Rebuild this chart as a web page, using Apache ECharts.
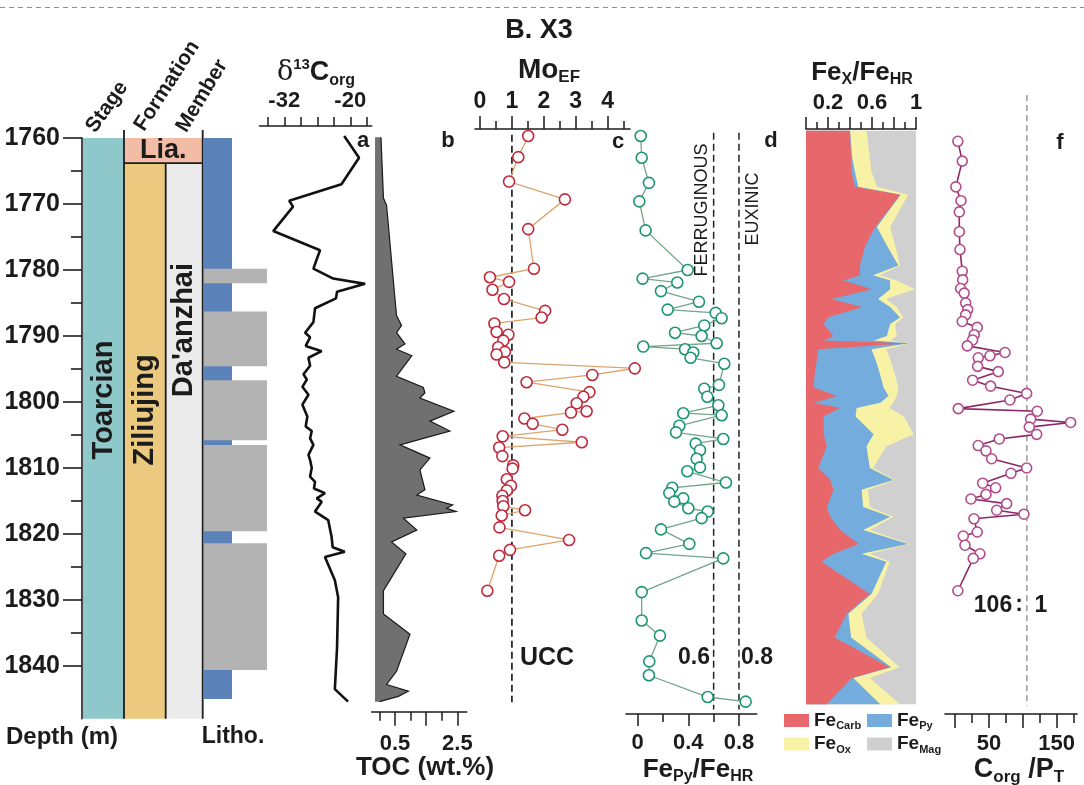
<!DOCTYPE html>
<html>
<head>
<meta charset="utf-8">
<title>B. X3</title>
<script src="https://cdn.jsdelivr.net/npm/echarts@6.0.0/dist/echarts.min.js"></script>
<style>
html,body{margin:0;padding:0;background:#ffffff;}
#chart{width:1084px;height:785px;}
</style>
</head>
<body>
<div id="chart"></div>
<script>
// ======================= DATA =======================
const depthMajorTicks = [1760,1770,1780,1790,1800,1810,1820,1830,1840];
const depthMinorTicks = [1765,1775,1785,1795,1805,1815,1825,1835];

// stratigraphy (depth intervals, m)
const stages = [{name:'Toarcian', top:1760, base:1848}];
const formations = [{name:'Lia.', top:1760, base:1763.8}, {name:'Ziliujing', top:1763.8, base:1848}];
const members = [{name:"Da'anzhai", top:1763.8, base:1848}];
const lithoBlueIntervals = [[1760,1845]];
const lithoGrayIntervals = [[1779.8,1782.0],[1786.3,1794.6],[1796.7,1805.8],[1806.5,1819.6],[1821.4,1840.6]];

// a: d13C org
const d13cDepth = [1759.7,1763.0,1767.0,1769.5,1770.4,1774.1,1777.0,1779.8,1781.3,1782.1,1783.3,1784.3,1785.8,1787.9,1789.5,1790.2,1791.5,1792.3,1793.3,1794.5,1795.8,1796.6,1797.7,1798.9,1800.4,1802.2,1803.7,1804.4,1805.5,1806.5,1808.0,1808.8,1810.0,1811.3,1812.1,1813.1,1813.8,1814.6,1815.1,1816.6,1817.9,1820.4,1822.0,1822.7,1823.5,1827.0,1829.6,1837.2,1843.5,1845.4];
const d13cValue = [-21.1,-18.4,-21.6,-31.1,-30.4,-34.0,-25.5,-26.7,-23.1,-17.3,-22.4,-22.6,-26.4,-26.7,-28.2,-27.3,-28.1,-25.2,-27.6,-27.3,-28.5,-27.9,-28.7,-27.6,-28.7,-27.8,-28.1,-27.0,-27.3,-26.7,-27.6,-27.3,-27.0,-27.3,-26.4,-26.6,-24.6,-26.1,-25.2,-26.4,-24.0,-23.4,-23.2,-21.0,-24.6,-22.8,-22.2,-22.4,-22.8,-20.4];
const d13cTicks = [-35,-32,-29,-26,-23,-20,-17];
const d13cTickLabels = [-32,-20];

// b: TOC (wt.%)
const tocDepth = [1759.9,1769.1,1770.2,1784.4,1786.9,1788.4,1789.5,1791.2,1792.0,1793.0,1794.0,1796.1,1797.8,1798.6,1799.4,1801.4,1802.9,1804.4,1806.5,1808.5,1810.3,1813.3,1814.1,1815.6,1816.1,1816.6,1817.6,1819.4,1821.2,1823.0,1828.6,1832.1,1835.2,1840.8,1842.8,1843.8,1844.6,1845.4];
const tocValue = [0.05,0.13,0.23,0.50,0.55,0.71,0.55,0.82,0.55,1.04,0.88,0.55,1.41,1.46,1.30,2.39,1.62,2.26,0.66,1.62,1.30,1.46,1.20,2.35,2.16,2.46,0.77,1.20,0.39,0.85,0.13,0.13,0.98,0.55,0.23,0.93,0.61,0.0];
const tocMajorTicks = [0.5,1.5,2.5];
const tocMinorTicks = [0,1,2];
const tocTickLabels = [0.5,2.5];

// c: Mo EF
const moDepth = [1759.7,1762.9,1766.6,1769.3,1773.8,1779.8,1781.1,1781.8,1783.0,1784.4,1786.2,1787.2,1788.1,1789.4,1789.8,1790.7,1791.7,1792.4,1792.8,1794.0,1794.9,1795.9,1797.0,1798.5,1799.2,1800.2,1801.4,1801.6,1802.5,1803.3,1804.2,1805.2,1806.1,1806.9,1808.2,1809.6,1810.1,1811.7,1812.7,1813.4,1814.2,1815.0,1815.8,1816.4,1817.2,1819.0,1820.9,1822.4,1823.3,1828.6];
const moEF = [1.51,1.20,0.91,2.66,1.51,1.69,0.31,0.91,0.39,0.75,2.04,1.93,0.45,0.52,0.89,0.73,0.57,0.78,0.52,0.76,4.85,3.52,1.46,3.43,3.24,3.03,3.34,2.85,1.39,1.65,2.58,0.71,3.19,0.60,0.70,1.04,1.02,0.84,0.97,0.84,0.70,0.71,0.73,1.41,0.68,0.61,2.79,0.94,0.60,0.23];
const moMajorTicks = [0,1,2,3,4];
const moMinorTicks = [0.5,1.5,2.5,3.5,4.5];
const moTickLabels = [0,1,2,3,4];
const moUCC = 1;

// d: FePy/FeHR
const fePyDepth = [1759.7,1763.0,1766.8,1769.6,1774.0,1780.0,1781.3,1781.9,1783.2,1784.8,1786.0,1786.5,1787.3,1788.4,1789.5,1790.0,1791.1,1791.6,1792.0,1792.5,1793.3,1794.2,1797.4,1798.0,1799.2,1800.5,1801.7,1802.0,1803.6,1804.6,1805.6,1806.3,1807.3,1808.6,1809.9,1810.5,1812.2,1813.0,1813.8,1814.6,1815.1,1816.1,1816.6,1817.6,1819.3,1821.5,1822.9,1823.7,1828.8,1833.1,1835.4,1839.3,1841.4,1844.7,1845.4];
const fePyRatio = [0.024,0.032,0.089,0.013,0.063,0.395,0.039,0.313,0.184,0.484,0.237,0.616,0.663,0.526,0.295,0.505,0.624,0.044,0.374,0.439,0.418,0.684,0.642,0.526,0.55,0.637,0.36,0.663,0.329,0.303,0.676,0.458,0.492,0.466,0.492,0.392,0.697,0.273,0.25,0.36,0.289,0.40,0.553,0.505,0.184,0.408,0.066,0.676,0.032,0.032,0.176,0.092,0.089,0.553,0.853];
const fePyMajorTicks = [0,0.4,0.8];
const fePyMinorTicks = [0.2,0.6];
const fePyTickLabels = [0,0.4,0.8];
const fePyThresholds = [0.6,0.8];

// e: FeX/FeHR speciation (fractions of FeHR)
const feXDepth = [1758.9,1763.0,1765.1,1767.4,1768.6,1773.5,1776.3,1779.3,1780.8,1781.6,1782.9,1784.4,1785.6,1787.2,1788.2,1790.0,1790.7,1791.1,1792.0,1793.5,1795.6,1797.8,1799.1,1800.1,1800.9,1802.2,1804.9,1806.7,1810.0,1811.8,1813.3,1815.9,1817.4,1819.4,1821.5,1823.0,1824.2,1829.1,1832.1,1835.7,1840.2,1841.8,1845.8];
const feCarb = [0.40,0.41,0.415,0.445,0.855,0.63,0.54,0.49,0.49,0.34,0.60,0.23,0.51,0.20,0.16,0.25,0.16,0.93,0.11,0.10,0.08,0.07,0.28,0.07,0.31,0.16,0.16,0.19,0.11,0.22,0.25,0.19,0.22,0.31,0.48,0.25,0.14,0.58,0.37,0.26,0.76,0.415,0.19];
const fePy = [0,0.01,0.03,0.03,0.005,0.015,0.195,0.35,0.12,0.425,0.165,0.425,0.255,0.655,0.605,0.485,0.455,0.01,0.485,0.53,0.59,0.635,0.47,0.605,0.15,0.29,0.455,0.36,0.47,0.575,0.255,0.33,0.545,0.21,0.45,0.255,0.59,0.015,0.015,0.15,0.015,0.015,0.485];
const feOx = [0.15,0.16,0.15,0.17,0.07,0.12,0.075,0.015,0.06,0.06,0.225,0.075,0.06,0.03,0.045,0.09,0.15,0.01,0.135,0.135,0.135,0.135,0.075,0.12,0.30,0.44,0.365,0.18,0.03,0.015,0.06,0.06,0.03,0.06,0.015,0.075,0.03,0.06,0.12,0.14,0.075,0.15,0.18];
const feXMajorTicks = [0,0.2,0.4,0.6,0.8,1];
const feXMinorTicks = [0.1,0.3,0.5,0.7,0.9];
const feXTickLabels = [0.2,0.6,1];

// f: Corg/PT
const cpDepth = [1760.5,1763.5,1767.4,1769.5,1771.2,1774.2,1776.9,1780.2,1781.5,1782.8,1783.5,1785.0,1786.0,1786.8,1787.8,1788.7,1789.8,1790.6,1791.5,1792.5,1793.0,1793.3,1794.6,1795.4,1796.7,1797.6,1798.7,1799.7,1801.0,1801.4,1802.6,1803.1,1803.8,1804.9,1805.6,1806.6,1807.4,1808.6,1810.0,1810.8,1812.3,1813.0,1814.0,1814.7,1815.4,1816.4,1817.0,1817.7,1819.7,1820.3,1821.7,1823.0,1823.7,1828.6];
const cpRatio = [4,10.5,1,8.6,6.1,6.1,7.1,10.5,11.1,8.1,13.4,15.5,18.5,15.5,10.5,32.6,28.2,25.8,17.9,73.6,51.4,34.1,33.2,63.7,25.8,52.4,105.6,80.9,4.6,121.3,111.5,170.6,109.5,120.4,65.2,34.1,45.5,53.9,105.6,82.4,40.6,59.8,45.5,23.3,76.1,61.3,101.6,27.8,32.6,12.0,14.5,36.6,26.7,4];
const cpMajorTicks = [0,50,100,150];
const cpMinorTicks = [25,75,125,175];
const cpTickLabels = [50,150];
const cpRedfield = 106;

// ======================= LAYOUT & STYLE =======================
const FONT = '"Liberation Sans", Arial, Helvetica, sans-serif';
const SERIF = '"DejaVu Serif", "Liberation Serif", serif';
const INK = '#1c1c1c';
const GRID_TOP = 138, DMIN = 1760, DMAX = 1848, PX_PER_M = 6.6;
const GRID_H = (DMAX - DMIN) * PX_PER_M;

const COL = {stage:[1,42], formation:[42,83.7], member:[83.7,120.7], lia:[42,120.7], lithoBlue:[122,150], lithoGray:[122,185]};
const LABEL_DEPTH = {'Toarcian':1799.7, 'Ziliujing':1801.2, "Da'anzhai":1789.1};
const COLORS = {stage:'#8fc8cb', lia:'#f2bca7', formation:'#ebc97e', member:'#ebebeb', lithoBlue:'#5b83b9', lithoGray:'#b3b3b3',
  carb:'#e8676a', py:'#73acdd', ox:'#f7f2a6', mag:'#d0d0d0'};
const TOC_BASE = -0.14;
const REF_SPAN = {mo:[1759.5,1845.5], fe:[1759.2,1846.6], cp:[1753.5,1846]};
const plainNum = v => String(v);

const grids = [], xAxes = [], yAxes = [], series = [];
function tickStyle(len){ return {show:true, length:len, lineStyle:{color:INK, width:1.5}}; }
function addPanel(p){
  const gi = grids.length;
  grids.push({left:p.left, top:GRID_TOP, width:p.width, height:GRID_H, containLabel:false, outerBoundsMode:'none'});
  const yi = yAxes.length;
  yAxes.push({gridIndex:gi, type:'value', inverse:true, min:DMIN, max:DMAX, show:false});
  const xi = xAxes.length;
  const base = {gridIndex:gi, type:'value', min:p.min, max:p.max, position:p.pos||'bottom', offset:p.offset||0, splitLine:{show:false}};
  if (!p.major){ xAxes.push(Object.assign({}, base, {show:false})); return {gi, xi, yi}; }
  xAxes.push(Object.assign({}, base, {
    axisLine:{show:true, onZero:false, lineStyle:{color:INK, width:1.6}},
    axisTick:Object.assign(tickStyle(p.majorLen), {customValues:p.major}),
    axisLabel:{show:true, customValues:p.labels, margin:p.margin, color:INK, fontFamily:FONT, fontWeight:'bold', fontSize:p.labelSize||22, formatter:plainNum}
  }));
  if (p.minor){
    xAxes.push(Object.assign({}, base, {
      axisLine:{show:false}, axisTick:Object.assign(tickStyle(p.minorLen), {customValues:p.minor}), axisLabel:{show:false}
    }));
  }
  return {gi, xi, yi};
}

const P_strat = addPanel({left:82, width:190, min:0, max:190});
const P_d13c = addPanel({left:259.5, width:112.2, min:-36.5, max:-16.1, pos:'top', offset:12, major:d13cTicks, majorLen:9, labels:d13cTickLabels, margin:14.5});
const P_toc = addPanel({left:371.7, width:95, min:-0.247, max:2.80, pos:'bottom', offset:-7.1, major:tocMajorTicks, majorLen:14, minor:tocMinorTicks, minorLen:9, labels:tocTickLabels, margin:21});
const P_mo = addPanel({left:475, width:155, min:-0.157, max:4.70, pos:'top', offset:9, major:moMajorTicks, majorLen:13, minor:moMinorTicks, minorLen:8, labels:moTickLabels, margin:16, labelSize:23});
const P_fepy = addPanel({left:626, width:130.7, min:-0.092, max:0.94, pos:'bottom', offset:-4.8, major:fePyMajorTicks, majorLen:12, minor:fePyMinorTicks, minorLen:8, labels:fePyTickLabels, margin:17.5});
const P_fex = addPanel({left:806, width:110, min:0, max:1, pos:'top', offset:9, major:feXMajorTicks, majorLen:12, minor:feXMinorTicks, minorLen:7, labels:feXTickLabels, margin:15.5});
const P_cp = addPanel({left:945, width:132, min:-15, max:180, pos:'bottom', offset:-4.8, major:cpMajorTicks, majorLen:14, minor:cpMinorTicks, minorLen:9, labels:cpTickLabels, margin:19});

// depth axis on the stratigraphic grid
yAxes[P_strat.yi] = {gridIndex:P_strat.gi, type:'value', inverse:true, min:DMIN, max:DMAX, position:'left',
  axisLine:{show:true, onZero:false, lineStyle:{color:INK, width:1.6}},
  axisTick:{show:true, customValues:depthMajorTicks, length:19, lineStyle:{color:INK, width:1.6}},
  axisLabel:{show:true, customValues:depthMajorTicks, margin:22, fontSize:25, fontWeight:'bold', color:INK, fontFamily:FONT, formatter:plainNum},
  splitLine:{show:false}};
yAxes.push({gridIndex:P_strat.gi, type:'value', inverse:true, min:DMIN, max:DMAX, position:'left',
  axisLine:{show:false}, axisTick:{show:true, customValues:depthMinorTicks, length:11, lineStyle:{color:INK, width:1.6}},
  axisLabel:{show:false}, splitLine:{show:false}});

// ---------- stratigraphic columns ----------
const stratItems = [];
stages.forEach(s => stratItems.push({x0:COL.stage[0], x1:COL.stage[1], top:s.top, base:s.base, fill:COLORS.stage, label:s.name, rotate:true}));
formations.forEach(f => {
  if (f.name === 'Lia.') stratItems.push({x0:COL.lia[0], x1:COL.lia[1], top:f.top, base:f.base, fill:COLORS.lia, label:f.name, rotate:false, size:27});
  else stratItems.push({x0:COL.formation[0], x1:COL.formation[1], top:f.top, base:f.base, fill:COLORS.formation, label:f.name, rotate:true});
});
members.forEach(m => stratItems.push({x0:COL.member[0], x1:COL.member[1], top:m.top, base:m.base, fill:COLORS.member, label:m.name, rotate:true}));
lithoBlueIntervals.forEach(iv => stratItems.push({x0:COL.lithoBlue[0], x1:COL.lithoBlue[1], top:iv[0], base:iv[1], fill:COLORS.lithoBlue}));
lithoGrayIntervals.forEach(iv => stratItems.push({x0:COL.lithoGray[0], x1:COL.lithoGray[1], top:iv[0], base:iv[1], fill:COLORS.lithoGray}));

series.push({type:'custom', name:'strat', xAxisIndex:P_strat.xi, yAxisIndex:P_strat.yi, clip:false, silent:true, z:1,
  data: stratItems.map(it => [it.x0, it.top, it.x1, it.base]), encode:{x:[0,2], y:[1,3]},
  renderItem:(params, api) => {
    const it = stratItems[params.dataIndex];
    const a = api.coord([it.x0, it.top]), b = api.coord([it.x1, it.base]);
    const children = [{type:'rect', shape:{x:a[0], y:a[1], width:b[0]-a[0], height:b[1]-a[1]}, style:{fill:it.fill}}];
    if (it.label){
      const cx = (a[0]+b[0])/2;
      const cy = LABEL_DEPTH[it.label] != null ? api.coord([0, LABEL_DEPTH[it.label]])[1] : (a[1]+b[1])/2;
      const size = it.size || 29;
      children.push({type:'text', x:cx, y:cy, rotation: it.rotate ? Math.PI/2 : 0,
        style:{text:it.label, font:'bold '+size+'px '+FONT, fill:INK, align:'center', verticalAlign:'middle', textAlign:'center', textVerticalAlign:'middle'}});
    }
    return {type:'group', children};
  }});

const sepSegments = [[COL.stage[1],1758.8,COL.stage[1],DMAX],[COL.member[1],1758.8,COL.member[1],DMAX],[COL.formation[1],1763.8,COL.formation[1],DMAX],[COL.lia[0],1763.8,COL.lia[1],1763.8]];
series.push({type:'custom', name:'sep', xAxisIndex:P_strat.xi, yAxisIndex:P_strat.yi, clip:false, silent:true, z:2,
  data: sepSegments, encode:{x:[0,2], y:[1,3]},
  renderItem:(params, api) => {
    const s = sepSegments[params.dataIndex];
    const a = api.coord([s[0], s[1]]), b = api.coord([s[2], s[3]]);
    return {type:'line', shape:{x1:a[0], y1:a[1], x2:b[0], y2:b[1]}, style:{stroke:INK, lineWidth:1.8}};
  }});

// ---------- a: d13C ----------
series.push({type:'line', name:'d13C', xAxisIndex:P_d13c.xi, yAxisIndex:P_d13c.yi, clip:false, silent:true, symbol:'none', z:3,
  data: d13cDepth.map((d,i) => [d13cValue[i], d]), lineStyle:{color:'#111', width:2.6}});

// ---------- b: TOC ----------
series.push({type:'custom', name:'TOC', xAxisIndex:P_toc.xi, yAxisIndex:P_toc.yi, clip:false, silent:true, z:2,
  data: tocDepth.map((d,i) => [tocValue[i], d]),
  renderItem:(params, api) => {
    if (params.dataIndex !== 0) return null;
    const pts = tocDepth.map((d,i) => api.coord([tocValue[i], d]));
    const t = api.coord([TOC_BASE, tocDepth[0]]), b = api.coord([TOC_BASE, tocDepth[tocDepth.length-1]]);
    return {type:'group', children:[
      {type:'polygon', shape:{points:[t].concat(pts, [b])}, style:{fill:'#707070'}},
      {type:'polyline', shape:{points:pts}, style:{stroke:'#1a1a1a', lineWidth:1.2, fill:null}}
    ]};
  }});

// ---------- reference lines ----------
function refLine(panel, value, span, style){
  return {type:'line', xAxisIndex:panel.xi, yAxisIndex:panel.yi, clip:false, silent:true, symbol:'none', z:1,
    data:[[value, span[0]], [value, span[1]]], lineStyle:style};
}
series.push(refLine(P_mo, moUCC, REF_SPAN.mo, {color:'#111', width:1.6, type:[7,4]}));
fePyThresholds.forEach(t => series.push(refLine(P_fepy, t, REF_SPAN.fe, {color:'#222', width:1.5, type:[7,4]})));
series.push(refLine(P_cp, cpRedfield, REF_SPAN.cp, {color:'#666', width:1, type:[6,4]}));

// ---------- point profiles ----------
function profile(panel, depth, vals, stroke, lineColor, size, lw){
  return {type:'line', xAxisIndex:panel.xi, yAxisIndex:panel.yi, clip:false, silent:true, z:3,
    data: depth.map((d,i) => [vals[i], d]), symbol:'circle', symbolSize:size, showSymbol:true,
    itemStyle:{color:'#ffffff', borderColor:stroke, borderWidth:1.6}, lineStyle:{color:lineColor, width:lw}};
}
series.push(profile(P_mo, moDepth, moEF, '#c02a3e', '#dca46c', 11, 1.3));
series.push(profile(P_fepy, fePyDepth, fePyRatio, '#1d9573', '#74a48a', 11, 1.3));
series.push(profile(P_cp, cpDepth, cpRatio, '#b34c8b', '#8c2866', 10, 1.6));

// ---------- e: Fe speciation stacked ----------
const feMag = feXDepth.map((d,i) => 1 - feCarb[i] - fePy[i] - feOx[i]);
const cum1 = feCarb.slice();
const cum2 = cum1.map((v,i) => v + fePy[i]);
const cum3 = cum2.map((v,i) => v + feOx[i]);
const cum4 = cum3.map((v,i) => v + feMag[i]);
function feSeries(name, right, color){
  return {type:'custom', name, xAxisIndex:P_fex.xi, yAxisIndex:P_fex.yi, clip:false, silent:true, z:2,
    itemStyle:{color},
    data: feXDepth.map((d,i) => [right[i], d]),
    renderItem:(params, api) => {
      if (params.dataIndex !== 0) return null;
      const pts = feXDepth.map((d,i) => api.coord([right[i], d]));
      const n = feXDepth.length;
      const lb = api.coord([0, feXDepth[n-1]]), lt = api.coord([0, feXDepth[0]]);
      return {type:'polygon', shape:{points:pts.concat([lb, lt])}, style:{fill:color}};
    }};
}
series.push(feSeries('FeMag', cum4, COLORS.mag));
series.push(feSeries('FeOx', cum3, COLORS.ox));
series.push(feSeries('FePy', cum2, COLORS.py));
series.push(feSeries('FeCarb', cum1, COLORS.carb));

// ---------- texts ----------
function R(size, o){ o = o || {}; return {fontSize:size, fontWeight:o.weight||'bold', fontFamily:o.family||FONT, fill:INK, color:INK, verticalAlign:o.va||'middle', lineHeight:o.lh||size}; }
function T(text, x, y, o){
  o = o || {};
  const size = o.size || 22, weight = o.weight || 'bold', fam = o.family || FONT;
  const style = {text, font: weight+' '+size+'px '+fam, fontSize:size, fontWeight:weight, fontFamily:fam, fill:o.color||INK,
    align:o.align||'center', verticalAlign:o.va||'middle', textAlign:o.align||'center', textVerticalAlign:o.va||'middle'};
  if (o.rich) style.rich = o.rich;
  return {type:'text', x, y, rotation:o.rot||0, silent:true, z:100, style};
}
const deg = Math.PI/180;
const graphics = [
  {type:'line', shape:{x1:0, y1:7.5, x2:1084, y2:7.5}, silent:true, style:{stroke:'#8c8c8c', lineWidth:1, lineDash:[5,4]}},
  T('B. X3', 539, 31, {size:27}),
  T('{d|δ}{sup|13}{c|C}{sub|org}', 316, 73, {rich:{d:R(27,{weight:'normal', family:SERIF, lh:32}), sup:R(15,{va:'top', lh:15}), c:R(27,{lh:32}), sub:R(16,{va:'bottom', lh:16})}}),
  T('{m|Mo}{sub|EF}', 549, 70, {rich:{m:R(28,{lh:32}), sub:R(17,{va:'bottom', lh:17})}}),
  T('{m|Fe}{sub|X}{m|/Fe}{sub|HR}', 862, 73, {rich:{m:R(26,{lh:30}), sub:R(16,{va:'bottom', lh:16})}}),
  T('TOC (wt.%)', 425, 768, {size:26}),
  T('{m|Fe}{sub|Py}{m|/Fe}{sub|HR}', 698, 770, {rich:{m:R(26,{lh:30}), sub:R(16,{va:'bottom', lh:16})}}),
  T('{m|C}{sub|org}{m| /P}{sub|T}', 1019, 770, {rich:{m:R(27,{lh:32}), sub:R(17,{va:'bottom', lh:17})}}),
  T('Depth (m)', 62, 737, {size:24}),
  T('Litho.', 233, 737, {size:23}),
  T('a', 363, 141), T('b', 448, 141), T('c', 618, 142), T('d', 771, 141), T('f', 1060, 143),
  T('UCC', 547, 658, {size:25}),
  T('0.6', 694, 658, {size:23}), T('0.8', 757, 658, {size:23}),
  T('106', 993, 606, {size:23}), T(':', 1019, 605, {size:23}), T('1', 1041, 606, {size:23}),
  T('FERRUGINOUS', 702, 210, {size:18, weight:'normal', rot:Math.PI/2}),
  T('EUXINIC', 753, 209, {size:18, weight:'normal', rot:Math.PI/2}),
  T('Stage', 107, 107, {size:21, rot:55*deg}),
  T('Formation', 167, 86, {size:21, rot:57*deg}),
  T('Member', 202, 96, {size:21, rot:59*deg})
];

// ---------- legend ----------
const legendLabel = {FeCarb:'{f|Fe}{s|Carb}', FePy:'{f|Fe}{s|Py}', FeOx:'{f|Fe}{s|Ox}', FeMag:'{f|Fe}{s|Mag}'};
const legendRich = {f:{fontSize:19, fontWeight:'bold', fontFamily:FONT, color:INK, lineHeight:22, verticalAlign:'middle'},
                    s:{fontSize:11, fontWeight:'bold', fontFamily:FONT, color:INK, lineHeight:11, verticalAlign:'bottom'}};
function mkLegend(left, names){
  return {left, top:711, orient:'vertical', padding:0, itemGap:3, itemWidth:25, itemHeight:13, icon:'rect', selectedMode:false,
    data:names.map(n => ({name:n, icon:'rect', itemStyle:{color:{FeCarb:COLORS.carb, FePy:COLORS.py, FeOx:COLORS.ox, FeMag:COLORS.mag}[n]}})),
    formatter:n => legendLabel[n], textStyle:{rich:legendRich, color:INK, fontSize:19, fontWeight:'bold'}};
}

const chart = echarts.init(document.getElementById('chart'), null, {renderer:'canvas', width:1084, height:785});
chart.setOption({
  animation:false,
  backgroundColor:'#ffffff',
  textStyle:{fontFamily:FONT},
  grid:grids, xAxis:xAxes, yAxis:yAxes, series,
  legend:[mkLegend(784, ['FeCarb','FeOx']), mkLegend(867, ['FePy','FeMag'])],
  graphic:{elements:graphics}
});
</script>
</body>
</html>
